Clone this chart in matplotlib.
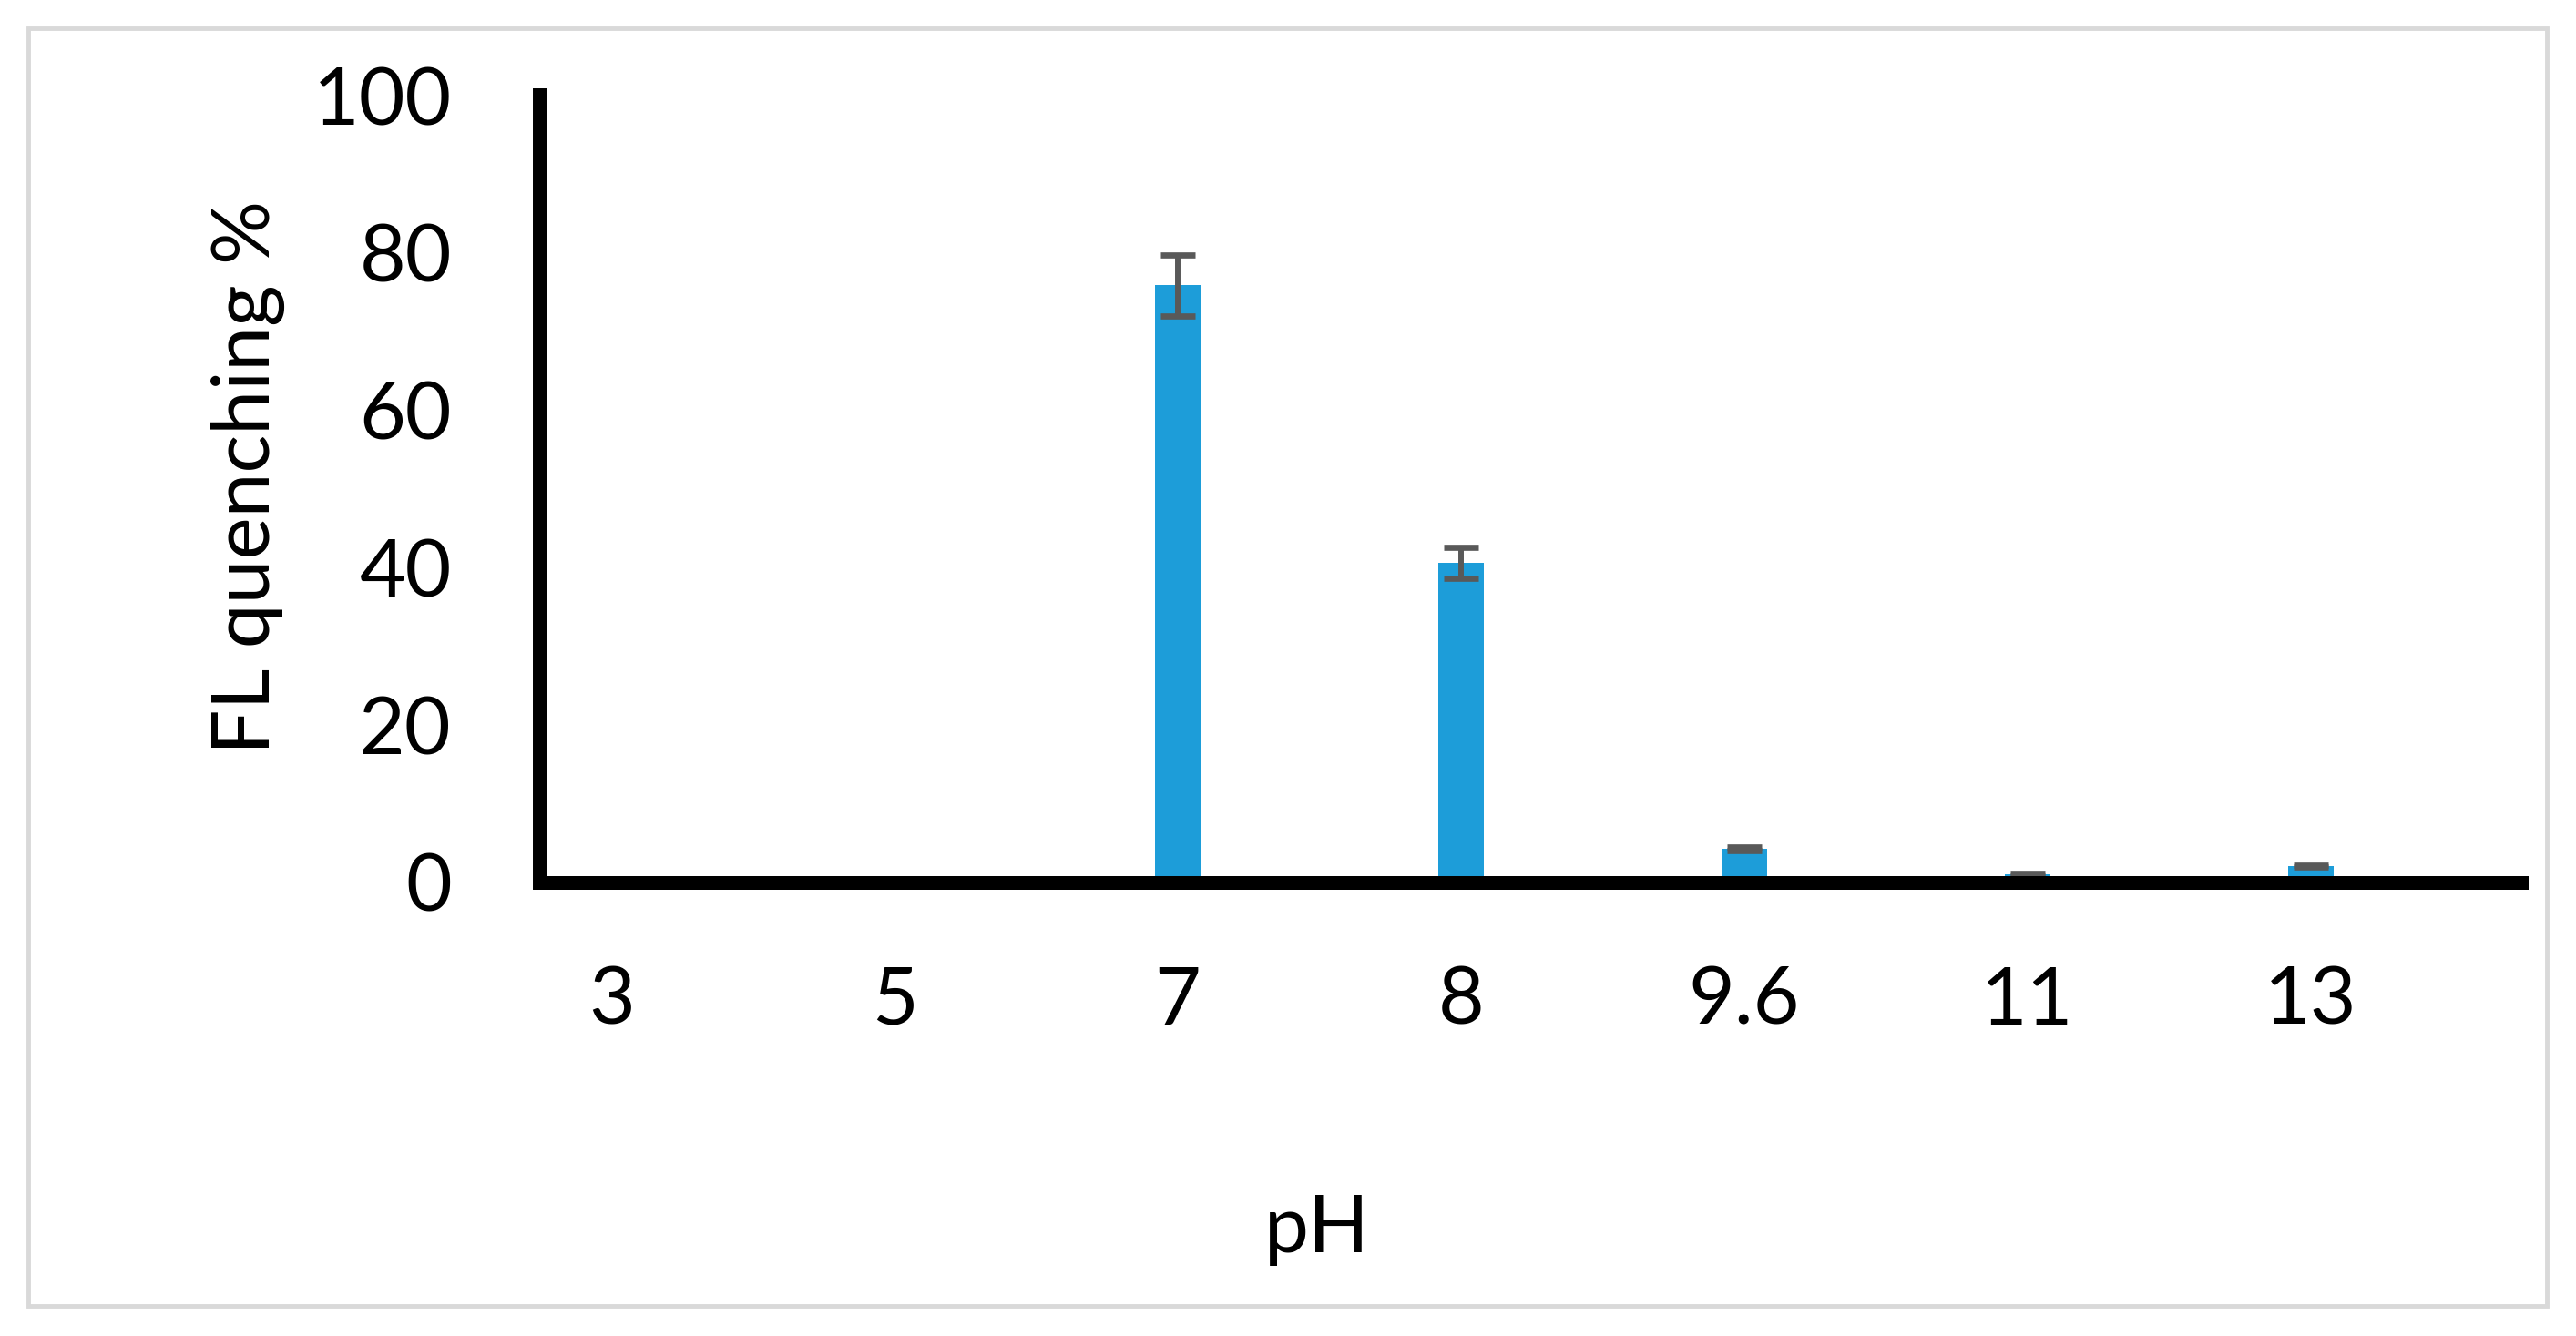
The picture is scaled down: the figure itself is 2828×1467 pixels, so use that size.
import matplotlib
matplotlib.use('Agg')
import matplotlib.pyplot as plt
from matplotlib.patches import Rectangle
import numpy as np

plt.rcParams['font.family'] = ['Lato', 'DejaVu Sans']

# data
ph_labels = ['3', '5', '7', '8', '9.6', '11', '13']
quench = [0.0, 0.0, 75.9, 40.6, 4.3, 1.0, 2.1]
quench_err = [0.0, 0.0, 3.9, 2.0, 0.2, 0.2, 0.15]

fig = plt.figure(figsize=(28.28, 14.67), dpi=100)
ax = fig.add_axes([0.2097, 0.3395, 0.7691, 0.5889])

x = np.arange(len(ph_labels))
ax.bar(x, quench, width=0.16, color='#1D9DD9', zorder=1)
ax.errorbar(x[2:], quench[2:], yerr=quench_err[2:], fmt='none', ecolor='#595959',
            elinewidth=4.3, capsize=13.5, capthick=4.8, zorder=2)

ax.set_xlim(-0.251, 6.743)
ax.set_ylim(0, 100)
ax.set_yticks([0, 20, 40, 60, 80, 100])
ax.set_xticks(x)
ax.set_xticklabels(ph_labels)

ax.tick_params(axis='y', length=0, pad=70, labelsize=63)
ax.tick_params(axis='x', length=0, pad=66, labelsize=63)

for s in ['top', 'right']:
    ax.spines[s].set_visible(False)
ax.spines['left'].set_linewidth(11.5)
ax.spines['bottom'].set_linewidth(10.8)
ax.spines['left'].set_color('black')
ax.spines['bottom'].set_color('black')
ax.spines['bottom'].set_zorder(3)

ax.set_ylabel('FL quenching %', fontsize=63, va='center')
ax.yaxis.set_label_coords(-0.1476, 0.515)
ax.set_xlabel('pH', fontsize=63, va='center')
ax.xaxis.set_label_coords(0.392, -0.442)

# outer chart border
fig.patches.append(Rectangle((31 / 2828, 1 - 1434 / 1467), (2796 - 31) / 2828, (1434 - 31) / 1467,
                             transform=fig.transFigure, fill=False, edgecolor='#D9D9D9', lw=3.5))

fig.savefig('out.png', dpi=100)
